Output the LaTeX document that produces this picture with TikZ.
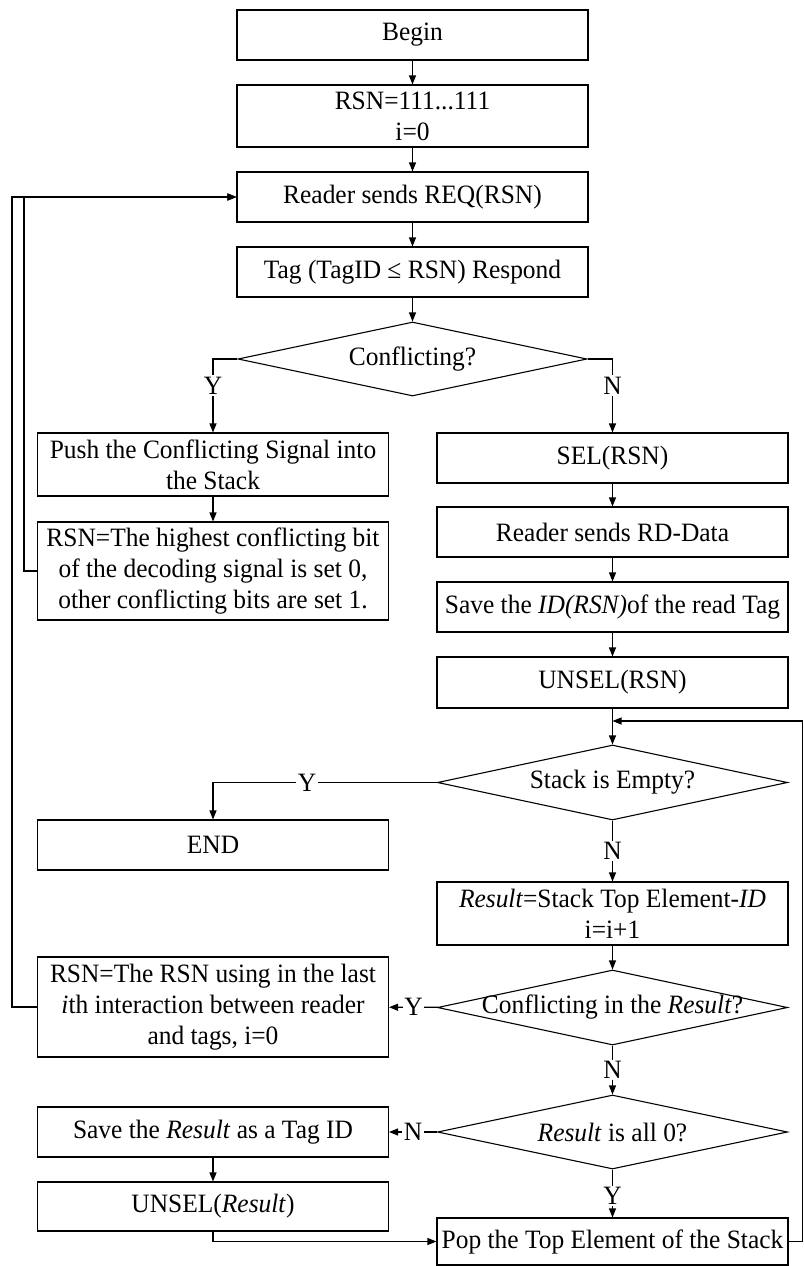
\documentclass[tikz,border=0pt]{standalone}
\usepackage{fontspec}
\setmainfont[FakeStretch=0.96]{Liberation Serif}
\usepackage{tikz}
\usetikzlibrary{shapes.geometric,arrows.meta}
\tikzstyle{box}=[draw,rectangle,minimum width=351pt,minimum height=50pt,align=center,inner sep=2pt,line width=1.1pt]
\tikzstyle{decision}=[draw,diamond,aspect=4.67,inner sep=-5pt,minimum width=350pt,minimum height=75pt,line width=1.1pt]
\tikzstyle{arr}=[line width=1.1pt,-{Triangle[length=9pt,width=7pt]}]
\tikzstyle{yn}=[fill=white,inner sep=1.5pt]

\begin{document}
\begin{tikzpicture}[x=1pt,y=-1pt,font=\fontsize{26.5}{31}\selectfont]
\useasboundingbox (0,0) rectangle (803,1266);
% main column
\node[box] (begin) at (412.5,35) {Begin};
\node[box,minimum height=62pt] (init) at (412.5,116) {RSN=111...111\\i=0};
\node[box] (req) at (412.5,197) {Reader sends REQ(RSN)};
\node[box] (resp) at (412.5,272) {Tag (TagID ≤ RSN) Respond};
\node[decision,minimum width=349pt,minimum height=74pt] (conf) at (412.5,359) {Conflicting?};
% left column
\node[box,minimum height=63pt] (push) at (213,464.5) {Push the Conflicting Signal into\\the Stack};
\node[box,minimum height=98pt] (setbit) at (213,571) {RSN=The highest conflicting bit\\of the decoding signal is set 0,\\other conflicting bits are set 1.};
\node[box] (endbox) at (213,845) {END};
\node[box,minimum height=100pt] (reset) at (213,1007) {RSN=The RSN using in the last\\\textit{i}th interaction between reader\\and tags, i=0};
\node[box] (saveres) at (213,1132) {Save the \textit{Result} as a Tag ID};
\node[box,minimum height=49pt] (unselres) at (213,1206.5) {UNSEL(\textit{Result})};
% right column
\node[box] (sel) at (612.5,458) {SEL(RSN)};
\node[box] (rd) at (612.5,532) {Reader sends RD-Data};
\node[box] (save) at (612.5,607) {Save the \textit{ID(RSN)}of the read Tag};
\node[box,minimum height=51pt] (unsel) at (612.5,682.5) {UNSEL(RSN)};
\node[decision] (empty) at (612.5,782.5) {Stack is Empty?};
\node[box,minimum height=63pt] (result) at (612.5,913.5) {\textit{Result}=Stack Top Element-\textit{ID}\\i=i+1};
\node[decision] (inres) at (612.5,1007.5) {Conflicting in the \textit{Result}?};
\node[decision,minimum height=74pt] (zero) at (612.5,1132) {\textit{Result} is all 0?};
\node[box,minimum height=47pt] (pop) at (612.5,1241.5) {Pop the Top Element of the Stack};
\coordinate (join) at (612.5,721);

\draw[arr] (begin) -- (init);
\draw[arr] (init) -- (req);
\draw[arr] (req) -- (resp);
\draw[arr] (resp) -- (conf);
\draw[arr] (conf.west) -| node[yn,pos=0.68]{Y} (push.north);
\draw[arr] (conf.east) -| node[yn,pos=0.68]{N} (sel.north);
\draw[arr] (push) -- (setbit);
\draw[arr] (setbit.west) -- ([xshift=-13pt]setbit.west) |- (req.west);
\draw[arr] (reset.west) -- ([xshift=-25pt]reset.west) |- (req.west);
\draw[arr] (sel) -- (rd);
\draw[arr] (rd) -- (save);
\draw[arr] (save) -- (unsel);
\draw[arr] (unsel) -- (empty);
\draw[arr] (pop.east) -- ([xshift=13.5pt]pop.east) |- (join);
\draw[arr] (empty.west) -| node[yn,pos=0.29]{Y} (endbox.north);
\draw[arr] (empty) -- node[yn]{N} (result);
\draw[arr] (result) -- (inres);
\draw[arr] (inres) -- node[yn]{Y} (reset);
\draw[arr] (inres) -- node[yn]{N} (zero);
\draw[arr] (zero) -- node[yn]{N} (saveres);
\draw[arr] (zero) -- node[yn,pos=0.55]{Y} (pop);
\draw[arr] (saveres) -- (unselres);
\draw[arr] (unselres.south) |- (pop.west);
\end{tikzpicture}
\end{document}
